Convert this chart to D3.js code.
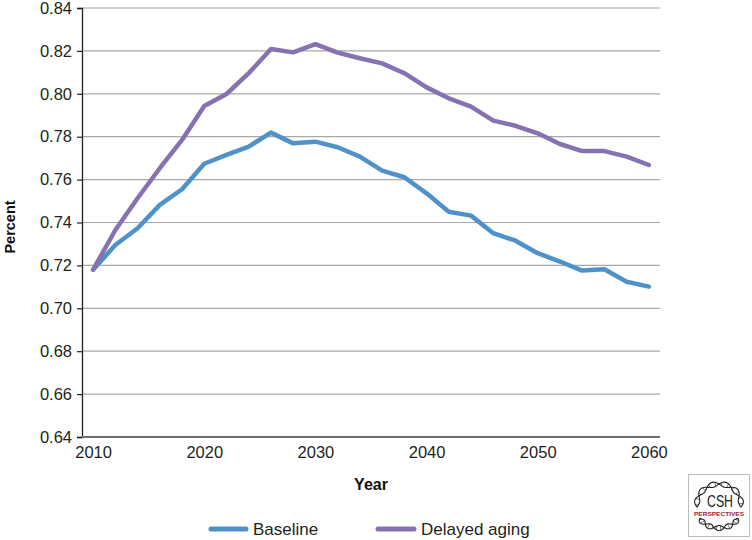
<!DOCTYPE html>
<html>

<head>
    <title>Percent by year</title>
    <script src="https://d3js.org/d3.v7.min.js"></script>
    <style>
        html,
        body {
            margin: 0;
            padding: 0;
            background: #fff;
            overflow: hidden;
            font-family: "Liberation Sans", Arial, Helvetica, sans-serif;
        }

        .grid line {
            stroke: #a8a8a8;
            stroke-width: 1.2px;
        }

        .tick-label {
            font-size: 16.5px;
            fill: #231f20;
        }

        .axis-title {
            font-weight: bold;
            fill: #111;
        }

        .series {
            fill: none;
            stroke-width: 4.5px;
            stroke-linejoin: round;
            stroke-linecap: round;
        }
    </style>
</head>

<body>
    <svg id="chart" width="752" height="540"></svg>

    <script>
        // Datos
        const years = [2010, 2012, 2014, 2016, 2018, 2020, 2022, 2024, 2026, 2028, 2030, 2032, 2034,
            2036, 2038, 2040, 2042, 2044, 2046, 2048, 2050, 2052, 2054, 2056, 2058, 2060];

        const baseline = [0.718, 0.7295, 0.7373, 0.7482, 0.7555, 0.7674, 0.7715, 0.7754, 0.7819, 0.7769,
            0.7777, 0.7751, 0.7707, 0.7642, 0.7611, 0.7536, 0.7450, 0.7432, 0.7350, 0.7315,
            0.7257, 0.7218, 0.7176, 0.7182, 0.7124, 0.7101];

        const delayedAging = [0.718, 0.7365, 0.7513, 0.7653, 0.7785, 0.7943, 0.7999, 0.8096, 0.8209, 0.8193,
            0.8232, 0.8192, 0.8166, 0.8142, 0.8096, 0.8030, 0.7979, 0.7940, 0.7875, 0.7851,
            0.7816, 0.7766, 0.7733, 0.7733, 0.7707, 0.7668];

        const yTicks = [0.64, 0.66, 0.68, 0.70, 0.72, 0.74, 0.76, 0.78, 0.80, 0.82, 0.84];
        const xTickLabels = [2010, 2020, 2030, 2040, 2050, 2060];

        const seriesNames = ["Baseline", "Delayed aging"];
        const seriesColors = ["#4e92c9", "#8672b1"];

        // Escalas
        const svg = d3.select("#chart");
        const plot = { left: 82, right: 660, top: 8, bottom: 437 };

        const x = d3.scalePoint()
            .domain(years)
            .range([plot.left, plot.right])
            .padding(0.5);

        const y = d3.scaleLinear()
            .domain([0.64, 0.84])
            .range([plot.bottom, plot.top]);

        // Lineas de cuadricula
        svg.append("g")
            .attr("class", "grid")
            .selectAll("line")
            .data(yTicks.slice(1))
            .enter().append("line")
            .attr("x1", plot.left)
            .attr("x2", plot.right)
            .attr("y1", d => y(d))
            .attr("y2", d => y(d));

        // Eje Y
        const yAxis = svg.append("g")
            .attr("transform", `translate(${plot.left},0)`)
            .call(d3.axisLeft(y).tickValues(yTicks).tickFormat(d3.format(".2f")).tickSize(5).tickPadding(5));
        yAxis.select(".domain").attr("stroke", "#231f20").attr("stroke-width", 1.3);
        yAxis.selectAll(".tick line").attr("stroke", "#231f20").attr("stroke-width", 1.2);
        yAxis.selectAll(".tick text")
            .attr("class", "tick-label")
            .attr("font-family", null)
            .attr("font-size", null)
            .attr("fill", null);

        // Eje X
        const xAxis = svg.append("g")
            .attr("transform", `translate(0,${plot.bottom})`)
            .call(d3.axisBottom(x).tickValues(xTickLabels).tickSize(0).tickPadding(9));
        xAxis.select(".domain")
            .attr("d", `M${plot.left},0H${plot.right}`)
            .attr("stroke", "#6e6e6e")
            .attr("stroke-width", 2);
        xAxis.selectAll(".tick text")
            .attr("class", "tick-label")
            .attr("font-family", null)
            .attr("font-size", null)
            .attr("fill", null);

        // Titulos de ejes
        svg.append("text")
            .attr("class", "axis-title")
            .attr("x", (plot.left + plot.right) / 2)
            .attr("y", 490)
            .attr("text-anchor", "middle")
            .attr("font-size", "16px")
            .text("Year");

        svg.append("text")
            .attr("class", "axis-title")
            .attr("transform", "translate(15,227) rotate(-90)")
            .attr("text-anchor", "middle")
            .attr("font-size", "14.5px")
            .text("Percent");

        // Series
        const line = d3.line()
            .x((d, i) => x(years[i]))
            .y(d => y(d));

        [baseline, delayedAging].forEach((values, k) => {
            svg.append("path")
                .datum(values)
                .attr("class", "series")
                .attr("stroke", seriesColors[k])
                .attr("d", line);
        });

        // Leyenda
        const legendItems = [
            { name: seriesNames[0], color: seriesColors[0], x1: 211, x2: 246 },
            { name: seriesNames[1], color: seriesColors[1], x1: 378, x2: 414 }
        ];
        const legend = svg.append("g");
        legendItems.forEach(d => {
            legend.append("line")
                .attr("x1", d.x1).attr("x2", d.x2)
                .attr("y1", 529).attr("y2", 529)
                .attr("stroke", d.color)
                .attr("stroke-width", 5)
                .attr("stroke-linecap", "round");
            legend.append("text")
                .attr("class", "tick-label")
                .attr("x", d.x2 + 7)
                .attr("y", 535)
                .style("font-size", "17px")
                .text(d.name);
        });

        // Logo CSH Perspectives
        const logo = svg.append("g");
        logo.append("rect")
            .attr("x", 688.5).attr("y", 474.5)
            .attr("width", 61).attr("height", 62)
            .attr("fill", "#fff")
            .attr("stroke", "#bdbdbd")
            .attr("stroke-width", 1);

        // helices: dos hebras sobre un arco
        function helix(cx, cy, rx, ry, a0, a1, flip, turns) {
            const n = 60;
            const s1 = [], s2 = [], rungs = [];
            for (let i = 0; i <= n; i++) {
                const t = i / n;
                const a = a0 + (a1 - a0) * t;
                const w = 2.6 * Math.sin(t * Math.PI * turns);
                const px = cx + Math.cos(a) * rx;
                const py = cy + Math.sin(a) * ry * flip;
                const nx = Math.cos(a), ny = Math.sin(a) * flip;
                s1.push([px + nx * w, py + ny * w]);
                s2.push([px - nx * w, py - ny * w]);
                if (i % 5 === 2) rungs.push([[px + nx * w, py + ny * w], [px - nx * w, py - ny * w]]);
            }
            const g = logo.append("g").attr("stroke", "#222").attr("fill", "none").attr("stroke-width", 1.1);
            const l = d3.line().curve(d3.curveBasis);
            g.append("path").attr("d", l(s1));
            g.append("path").attr("d", l(s2));
            rungs.forEach(r2 => g.append("line")
                .attr("x1", r2[0][0]).attr("y1", r2[0][1])
                .attr("x2", r2[1][0]).attr("y2", r2[1][1])
                .attr("stroke-width", 0.6));
        }
        helix(719, 504, 22, 20, Math.PI * 0.95, Math.PI * 2.05, 1, 6);
        helix(719, 514, 20, 14, Math.PI * 1.1, Math.PI * 1.9, -1, 5);

        logo.append("text")
            .attr("x", 720).attr("y", 507)
            .attr("text-anchor", "middle")
            .attr("font-size", "17px")
            .attr("fill", "#222")
            .attr("textLength", 26)
            .attr("lengthAdjust", "spacingAndGlyphs")
            .text("CSH");
        logo.append("text")
            .attr("x", 719).attr("y", 516)
            .attr("text-anchor", "middle")
            .attr("font-size", "6px")
            .attr("font-weight", "bold")
            .attr("fill", "#9b2335")
            .attr("textLength", 50)
            .attr("lengthAdjust", "spacingAndGlyphs")
            .text("PERSPECTIVES");
    </script>
</body>

</html>
